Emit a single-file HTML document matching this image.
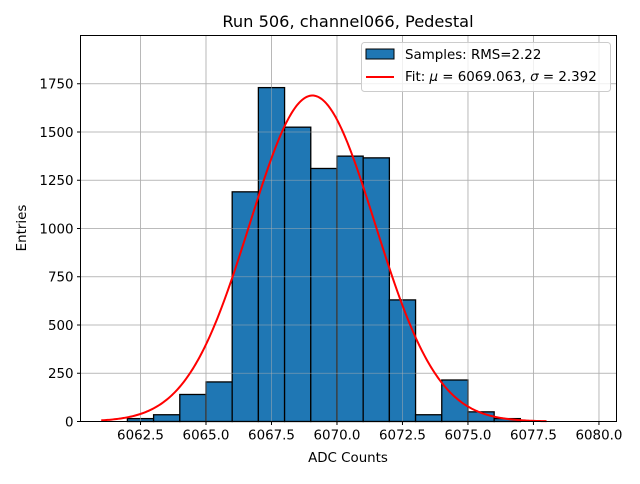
<!DOCTYPE html>
<html><head><meta charset="utf-8"><style>
body{margin:0;background:#fff;font-family:"DejaVu Sans","Liberation Sans",sans-serif}
svg text{font-family:"DejaVu Sans","Liberation Sans",sans-serif;fill:#000}
</style></head><body>
<svg id="chart" width="640" height="480" xmlns="http://www.w3.org/2000/svg">
<g id="grid"></g>
<g id="bars"></g>
<g id="grid2"></g>
<path id="fit" fill="none" stroke="#ff0000" stroke-width="2"/>
<rect x="80.5" y="35.5" width="536" height="386" fill="none" stroke="#000" stroke-width="1"/>
<g id="xt"></g>
<g id="yt"></g>
<text x="348" y="27" font-size="16.2" text-anchor="middle">Run 506, channel066, Pedestal</text>
<text x="348" y="462" font-size="13.4" text-anchor="middle">ADC Counts</text>
<text transform="translate(26,228) rotate(-90)" font-size="13.4" text-anchor="middle">Entries</text>
<g>
<rect x="361.5" y="42.5" width="249" height="49" rx="3" fill="#fff" fill-opacity="0.8" stroke="#ccc"/>
<rect x="366" y="49" width="28" height="10" fill="#1f77b4" stroke="#000"/>
<text x="405" y="59" font-size="13.4">Samples: RMS=2.22</text>
<line x1="366" y1="77" x2="394" y2="77" stroke="#f00" stroke-width="2"/>
<text x="405" y="81" font-size="13.4">Fit: <tspan font-style="italic">μ</tspan> = 6069.063, <tspan font-style="italic">σ</tspan> = 2.392</text>
</g>
</svg>
<script>
const binStarts=[6062,6063,6064,6065,6066,6067,6068,6069,6070,6071,6072,6073,6074,6075,6076];
const counts=[15,35,140,205,1190,1730,1525,1311,1375,1366,630,35,215,50,15];
const fitMu=6069.063, fitSigma=2.392, fitAmp=1689;
const xTicks=[6062.5,6065,6067.5,6070,6072.5,6075,6077.5,6080];
const xTickLabels=["6062.5","6065.0","6067.5","6070.0","6072.5","6075.0","6077.5","6080.0"];
const yTicks=[0,250,500,750,1000,1250,1500,1750];
const NS="http://www.w3.org/2000/svg";
const L=80.5,R=616.5,T=35.5,B=421.5,x0=6060.21,x1=6080.67,y0=0,y1=2000;
const X=v=>L+(v-x0)/(x1-x0)*(R-L), Y=v=>B-(v-y0)/(y1-y0)*(B-T);
function mk(tag,a,p){const e=document.createElementNS(NS,tag);for(const k in a)e.setAttribute(k,a[k]);p.appendChild(e);return e;}
const grid=document.getElementById('grid'),g2=document.getElementById('grid2'),xt=document.getElementById('xt'),yt=document.getElementById('yt'),bars=document.getElementById('bars');
[grid,g2].forEach(g=>{
 xTicks.forEach(t=>{const l=mk('line',{x1:X(t),x2:X(t),y1:T,y2:B,stroke:'#b0b0b0','stroke-width':0.8,'stroke-opacity':g===g2?0.6:1},g);});
 yTicks.forEach(t=>{const l=mk('line',{x1:L,x2:R,y1:Y(t),y2:Y(t),stroke:'#b0b0b0','stroke-width':0.8,'stroke-opacity':g===g2?0.6:1},g);});
});
binStarts.forEach((s,i)=>{const r=mk('rect',{x:X(s),y:Y(counts[i]),width:X(s+1)-X(s),height:Y(0)-Y(counts[i]),fill:'#1f77b4',stroke:'#000','stroke-width':1.3},bars);

});
xTicks.forEach((t,i)=>{mk('line',{x1:X(t),x2:X(t),y1:B,y2:B+3.5,stroke:'#000'},xt);const tx=mk('text',{x:X(t),y:B+18,'font-size':13.4,'text-anchor':'middle'},xt);tx.textContent=xTickLabels[i];

});
yTicks.forEach(t=>{mk('line',{x1:L-3.5,x2:L,y1:Y(t),y2:Y(t),stroke:'#000'},yt);const tx=mk('text',{x:L-7,y:Y(t)+4.8,'font-size':13.4,'text-anchor':'end'},yt);tx.textContent=t;

});
let d='';for(let v=6061;v<=6078.001;v+=0.05){const yv=fitAmp*Math.exp(-0.5*Math.pow((v-fitMu)/fitSigma,2));d+=(d?'L':'M')+X(v).toFixed(2)+','+Y(yv).toFixed(2);}
document.getElementById('fit').setAttribute('d',d);
</script>
</body></html>
